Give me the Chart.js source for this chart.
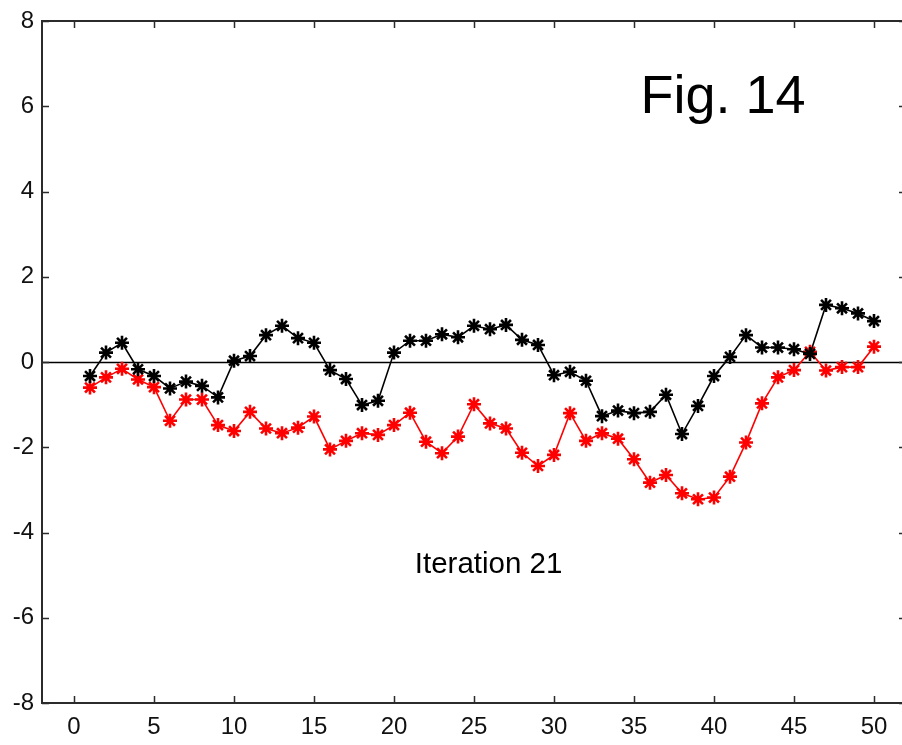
<!DOCTYPE html>
<html>
<head>
<meta charset="utf-8">
<title>Fig. 14</title>
<script src="https://cdn.jsdelivr.net/npm/chart.js@4.4.1/dist/chart.umd.min.js"></script>
<style>
  html, body { margin: 0; padding: 0; background: #fff; overflow: hidden; }
  #c { display: block; width: 908px; height: 745px; }
</style>
</head>
<body>
<canvas id="c" width="908" height="745"></canvas>
<script>
// Iteration index
const steps = Array.from({ length: 50 }, (_, i) => i + 1);

// Black series
const blackSeries = [
  -0.33, 0.22, 0.45, -0.17, -0.33, -0.62, -0.46, -0.56, -0.83, 0.03,
  0.14, 0.63, 0.85, 0.56, 0.45, -0.19, -0.40, -1.01, -0.91, 0.22,
  0.50, 0.50, 0.65, 0.58, 0.85, 0.77, 0.87, 0.52, 0.40, -0.31,
  -0.23, -0.44, -1.27, -1.14, -1.20, -1.17, -0.77, -1.69, -1.03, -0.33,
  0.12, 0.63, 0.34, 0.34, 0.30, 0.19, 1.34, 1.26, 1.14, 0.96
];

// Red series
const redSeries = [
  -0.60, -0.36, -0.16, -0.41, -0.59, -1.38, -0.88, -0.88, -1.48, -1.62,
  -1.17, -1.56, -1.67, -1.54, -1.28, -2.05, -1.85, -1.67, -1.71, -1.48,
  -1.19, -1.87, -2.14, -1.75, -0.99, -1.44, -1.56, -2.13, -2.44, -2.18,
  -1.20, -1.85, -1.67, -1.80, -2.28, -2.83, -2.65, -3.08, -3.22, -3.18,
  -2.69, -1.89, -0.97, -0.36, -0.19, 0.24, -0.20, -0.12, -0.12, 0.36
];

// Axis ticks
const xTickValues = [0, 5, 10, 15, 20, 25, 30, 35, 40, 45, 50];
const yTickValues = [-8, -6, -4, -2, 0, 2, 4, 6, 8];

// Annotations
const titleText = 'Fig. 14';
const noteText = 'Iteration 21';

const toPoints = (ys) => steps.map((x, i) => ({ x, y: ys[i] }));

const FONT = '"Liberation Sans", Arial, sans-serif';
const AXIS_COLOR = '#2b2b2b';

// Box frame, inward tick marks, zero reference line and text annotations
const framePlugin = {
  id: 'frame',
  beforeDatasetsDraw(chart) {
    const { ctx, chartArea: a, scales: { y } } = chart;
    ctx.save();
    const y0 = Math.round(y.getPixelForValue(0)) + 0.5;
    ctx.strokeStyle = '#000';
    ctx.lineWidth = 1.5;
    ctx.beginPath();
    ctx.moveTo(a.left, y0);
    ctx.lineTo(a.right, y0);
    ctx.stroke();
    ctx.restore();
  },
  afterDraw(chart) {
    const { ctx, chartArea: a, scales: { x, y } } = chart;
    const tl = 7;
    ctx.save();
    ctx.strokeStyle = AXIS_COLOR;
    ctx.lineWidth = 2;
    ctx.strokeRect(a.left, a.top, a.right - a.left, a.bottom - a.top);
    ctx.lineWidth = 1.5;
    ctx.beginPath();
    xTickValues.forEach(v => {
      const px = Math.round(x.getPixelForValue(v)) + 0.5;
      ctx.moveTo(px, a.bottom); ctx.lineTo(px, a.bottom - tl);
      ctx.moveTo(px, a.top); ctx.lineTo(px, a.top + tl);
    });
    yTickValues.forEach(v => {
      const py = Math.round(y.getPixelForValue(v)) + 0.5;
      ctx.moveTo(a.left, py); ctx.lineTo(a.left + tl, py);
      ctx.moveTo(a.right, py); ctx.lineTo(a.right - tl, py);
    });
    ctx.stroke();

    ctx.fillStyle = '#000';
    ctx.textBaseline = 'alphabetic';
    ctx.textAlign = 'left';
    ctx.font = '54px ' + FONT;
    ctx.fillText(titleText, x.getPixelForValue(35.4), y.getPixelForValue(5.85));
    ctx.font = '29.5px ' + FONT;
    ctx.fillText(noteText, x.getPixelForValue(21.3), y.getPixelForValue(-4.95));
    ctx.restore();
  }
};

const seriesStyle = (color) => ({
  borderColor: color,
  backgroundColor: color,
  borderWidth: 1.6,
  pointStyle: 'star',
  pointRadius: 7,
  pointHoverRadius: 7,
  pointBorderWidth: 2.6,
  pointBorderColor: color,
  tension: 0,
  fill: false
});

new Chart(document.getElementById('c'), {
  type: 'line',
  data: {
    datasets: [
      { label: 'black', data: toPoints(blackSeries), ...seriesStyle('#000000') },
      { label: 'red', data: toPoints(redSeries), ...seriesStyle('#ff0000') }
    ]
  },
  options: {
    responsive: false,
    maintainAspectRatio: false,
    devicePixelRatio: 1,
    animation: false,
    events: [],
    layout: { autoPadding: false, padding: { top: 21, right: 2, left: 0, bottom: 0 } },
    plugins: { legend: { display: false }, tooltip: { enabled: false } },
    scales: {
      x: {
        type: 'linear',
        min: -2,
        max: 52,
        grid: { display: false, drawTicks: false },
        border: { display: false },
        afterBuildTicks: (s) => { s.ticks = xTickValues.map(v => ({ value: v })); },
        afterFit: (s) => { s.height = 42; s.paddingLeft = 0; s.paddingRight = 0; },
        ticks: {
          autoSkip: false,
          maxRotation: 0,
          padding: 10,
          color: '#111',
          font: { family: FONT, size: 24 },
          callback: (v) => String(v)
        }
      },
      y: {
        type: 'linear',
        min: -8,
        max: 8,
        grid: { display: false, drawTicks: false },
        border: { display: false },
        afterBuildTicks: (s) => { s.ticks = yTickValues.map(v => ({ value: v })); },
        afterFit: (s) => { s.width = 42; s.paddingTop = 0; s.paddingBottom = 0; },
        ticks: {
          padding: 8,
          color: '#111',
          font: { family: FONT, size: 24 },
          callback: (v) => String(v)
        }
      }
    }
  },
  plugins: [framePlugin]
});
</script>
</body>
</html>
